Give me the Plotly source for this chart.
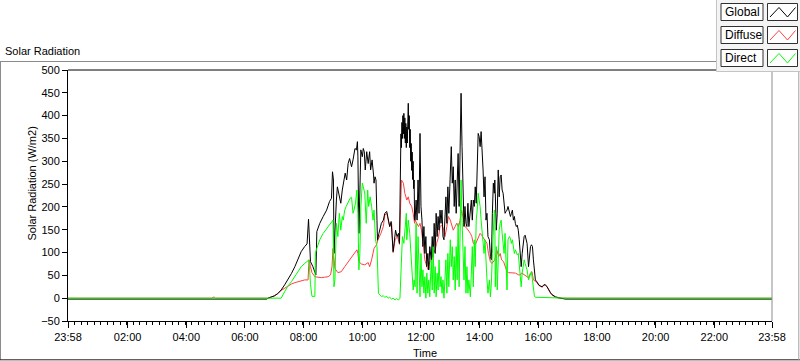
import plotly.graph_objects as go

# ---------------- data ----------------
GLOBAL_T = ["23:58", "06:45", "06:47", "06:54", "07:00", "07:07", "07:14", "07:21", "07:28", "07:35",
            "07:42", "07:48", "07:55", "08:02", "08:07", "08:10", "08:12", "08:14", "08:19", "08:23",
            "08:25", "08:27", "08:33", "08:40", "08:47", "08:53", "08:57", "08:59", "09:01", "09:02",
            "09:04", "09:07", "09:09", "09:12", "09:16", "09:19", "09:23", "09:25", "09:28", "09:31",
            "09:34", "09:38", "09:41", "09:45", "09:48", "09:50", "09:51", "09:53", "09:57", "10:00",
            "10:02", "10:04", "10:06", "10:09", "10:12", "10:15", "10:17", "10:20", "10:23", "10:24",
            "10:26", "10:28", "10:30", "10:31", "10:34", "10:37", "10:39", "10:43", "10:46", "10:50",
            "10:52", "10:54", "10:56", "10:59", "11:01", "11:03", "11:05", "11:08", "11:11", "11:14",
            "11:16", "11:18", "11:19", "11:20", "11:21", "11:22", "11:23", "11:24", "11:25", "11:26",
            "11:27", "11:28", "11:29", "11:30", "11:31", "11:32", "11:33", "11:34", "11:35", "11:36",
            "11:37", "11:38", "11:39", "11:40", "11:41", "11:42", "11:43", "11:44", "11:45", "11:46",
            "11:47",
            "11:48", "11:50", "11:52", "11:54", "11:56", "11:58", "12:00", "12:02", "12:04", "12:06",
            "12:08", "12:10", "12:12", "12:14", "12:16", "12:18", "12:21", "12:23", "12:25", "12:27",
            "12:29", "12:31", "12:33", "12:35", "12:37", "12:39", "12:41", "12:43", "12:45", "12:47",
            "12:49", "12:51", "12:53", "12:55", "12:57", "13:00", "13:02", "13:04", "13:06", "13:08",
            "13:10", "13:12", "13:14", "13:16", "13:18", "13:20", "13:22", "13:24", "13:26", "13:28",
            "13:30", "13:32", "13:34", "13:36", "13:38", "13:41", "13:43", "13:45", "13:47", "13:49",
            "13:51", "13:53", "13:55", "13:57", "13:59", "14:01", "14:03", "14:05", "14:07", "14:09",
            "14:11", "14:13", "14:15", "14:17", "14:20", "14:22", "14:24", "14:26", "14:28", "14:30",
            "14:31",
            "14:32", "14:34", "14:36", "14:38", "14:40", "14:42", "14:44", "14:46", "14:48", "14:50",
            "14:52", "14:54", "14:56", "14:58", "15:01", "15:03", "15:05", "15:07", "15:09", "15:11",
            "15:13", "15:15", "15:17", "15:19", "15:21", "15:23", "15:25", "15:27", "15:29", "15:31",
            "15:33", "15:35", "15:37", "15:40", "15:42", "15:44", "15:46", "15:48", "15:50", "15:52",
            "15:54", "15:57", "16:01", "16:04", "16:08", "16:11", "16:14", "16:18", "16:21", "16:25",
            "16:28", "16:32", "16:35", "16:42", "16:49", "16:55", "23:58"]
GLOBAL_V = [-2, -2, 0, 2, 5, 10, 18, 29, 41, 54,
            69, 84, 102, 113, 119, 173, 135, 80, 69, 54,
            51, 146, 164, 179, 193, 212, 219, 277, 259, 98,
            160, 215, 244, 230, 208, 237, 259, 274, 259, 295,
            306, 288, 303, 328, 325, 343, 310, 142, 325, 310,
            328, 321, 281, 321, 295, 321, 281, 303, 270, 252,
            266, 259, 171, 127, 142, 157, 164, 171, 186, 190,
            179, 164, 157, 168, 135, 102, 120, 149, 135, 142,
            120, 295, 360, 330, 385, 350, 400, 360, 405, 350,
            395, 340, 383, 330, 375, 340, 410, 427, 370, 400,
            330, 370, 300, 339, 280, 320, 260, 300, 240, 259,
            171,
            171, 215, 171, 259, 186, 361, 201, 171, 113, 157,
            98, 135, 69, 98, 62, 113, 84, 135, 91, 164,
            98, 186, 135, 179, 149, 193, 164, 193, 135, 128,
            193, 222, 164, 244, 186, 266, 332, 252, 288, 201,
            259, 186, 237, 317, 201, 361, 449, 332, 259, 157,
            201, 164, 157, 208, 157, 186, 215, 171, 215, 201,
            244, 208, 274, 361, 354, 332, 365, 332, 281, 222,
            266, 171, 186, 135, 128, 91, 84, 186, 252, 230,
            259,
            230, 149, 186, 281, 222, 266, 270, 237, 230, 208,
            186, 190, 193, 201, 190, 179, 186, 193, 171, 179,
            164, 157, 160, 149, 128, 98, 69, 98, 113, 135,
            138, 128, 120, 69, 91, 113, 117, 113, 84, 55,
            40, 36, 29, 27, 25, 29, 30, 25, 18, 12,
            8, 5, 3, 1, 0, -2, -2]

DIFFUSE_T = ["23:58", "04:52", "04:55", "04:58", "05:00", "06:47", "07:00", "07:07", "07:14", "07:21",
             "07:28", "07:35", "07:42", "07:48", "07:55", "08:02", "08:09", "08:11", "08:14", "08:17",
             "08:23", "08:29", "08:36", "08:43", "08:50", "08:55", "08:58", "09:00", "09:02", "09:04",
             "09:10", "09:17", "09:24", "09:31", "09:38", "09:45", "09:49", "09:51", "09:53", "09:58",
             "10:05", "10:12", "10:15", "10:19", "10:24", "10:29", "10:32", "10:38", "10:43", "10:46",
             "10:50", "10:53", "10:56", "11:00", "11:03", "11:07", "11:12", "11:16", "11:19", "11:20",
             "11:24", "11:27", "11:31", "11:34", "11:37", "11:41", "11:44", "11:47",
             "11:48", "11:51", "11:55", "11:58", "12:01", "12:05", "12:08", "12:12", "12:15", "12:18",
             "12:22", "12:25", "12:29", "12:32", "12:36", "12:39", "12:42", "12:46", "12:49", "12:53",
             "12:56", "13:00", "13:03", "13:06", "13:10", "13:13", "13:17", "13:20", "13:23", "13:27",
             "13:30", "13:34", "13:37", "13:41", "13:44", "13:47", "13:51", "13:54", "13:58", "14:01",
             "14:04", "14:08", "14:11", "14:15", "14:18", "14:22", "14:25", "14:28", "14:31",
             "14:35", "14:39", "14:42", "14:45", "14:49", "14:52", "14:56", "14:59", "15:06", "15:13",
             "15:20", "15:23", "15:26", "15:30", "15:33", "15:37", "15:40", "15:44", "15:47", "15:50",
             "15:54", "15:57", "16:01", "16:04", "16:08", "16:11", "16:14", "16:18", "16:21", "16:25",
             "16:28", "16:32", "16:35", "16:42", "23:58"]
DIFFUSE_V = [0, 0, 2, 2, 0, 0, 5, 10, 17, 22,
             27, 31, 34, 36, 38, 40, 40, 84, 69, 56,
             47, 46, 45, 46, 47, 51, 69, 109, 91, 65,
             56, 58, 69, 80, 91, 102, 106, 98, 80, 75,
             73, 78, 69, 84, 109, 117, 128, 142, 157, 182,
             186, 171, 157, 164, 100, 128, 135, 118, 200, 259,
             252, 230, 215, 222, 208, 201, 186, 164,
             171, 164, 157, 164, 149, 113, 84, 69, 62, 80,
             84, 98, 106, 120, 135, 157, 160, 153, 135, 157,
             179, 171, 157, 149, 157, 164, 157, 171, 193, 171,
             157, 153, 149, 142, 135, 120, 117, 124, 135, 142,
             138, 131, 128, 120, 98, 80, 76, 80, 84,
             106, 91, 98, 84, 80, 69, 58, 56, 56, 55,
             51, 51, 55, 52, 49, 47, 45, 55, 58, 40,
             36, 35, 28, 26, 24, 28, 29, 24, 17, 11,
             7, 4, 2, 0, 0]

DIRECT_T = ["23:58", "07:14", "07:21", "07:28", "07:35", "07:42", "07:48", "07:55", "08:02", "08:09",
            "08:11", "08:14", "08:17", "08:23", "08:24", "08:26", "08:33", "08:40", "08:47", "08:53",
            "08:58", "09:00", "09:02", "09:04", "09:07", "09:10", "09:13", "09:16", "09:19", "09:21",
            "09:24", "09:27", "09:30", "09:32", "09:35", "09:38", "09:41", "09:43", "09:46", "09:49",
            "09:51", "09:53", "09:55", "09:57", "10:00", "10:02", "10:05", "10:08", "10:11", "10:13",
            "10:16", "10:19", "10:22", "10:24", "10:27", "10:30", "10:31", "10:33", "10:36", "10:39",
            "10:43", "10:46", "10:50", "10:53", "10:56", "11:00", "11:03", "11:07", "11:10", "11:14",
            "11:17", "11:19", "11:20", "11:22", "11:25", "11:27", "11:30", "11:31", "11:34", "11:37",
            "11:40", "11:42", "11:44", "11:46",
            "11:48", "11:50", "11:52", "11:54", "11:56", "11:58", "12:00", "12:02", "12:04", "12:06",
            "12:08", "12:10", "12:12", "12:14", "12:16", "12:18", "12:21", "12:23", "12:25", "12:27",
            "12:29", "12:31", "12:33", "12:35", "12:37", "12:39", "12:41", "12:43", "12:45", "12:47",
            "12:49", "12:51", "12:53", "12:55", "12:57", "13:00", "13:02", "13:04", "13:06", "13:08",
            "13:10", "13:12", "13:14", "13:16", "13:18", "13:20", "13:22", "13:24", "13:26", "13:28",
            "13:30", "13:32", "13:34", "13:36", "13:38", "13:41", "13:43", "13:45", "13:47", "13:49",
            "13:51", "13:53", "13:55", "13:57", "13:59", "14:01", "14:03", "14:05", "14:07", "14:09",
            "14:11", "14:13", "14:15", "14:17", "14:20", "14:22", "14:24", "14:26", "14:28", "14:30",
            "14:31",
            "14:32", "14:34", "14:36", "14:38", "14:40", "14:42", "14:44", "14:46", "14:48", "14:50",
            "14:52", "14:54", "14:56", "14:58", "15:01", "15:03", "15:05", "15:07", "15:09", "15:11",
            "15:13", "15:15", "15:17", "15:19", "15:21", "15:23", "15:25", "15:27", "15:29", "15:31",
            "15:33", "15:35", "15:37", "15:40", "15:42", "15:44", "15:46", "15:48", "15:50", "15:52",
            "15:54", "16:30", "17:00", "23:58"]
DIRECT_V = [0, 0, 14, 27, 36, 47, 58, 69, 76, 84,
            84, 30, 4, 4, 98, 106, 128, 142, 153, 163,
            168, 171, 25, 40, 164, 135, 186, 149, 179, 171,
            193, 201, 208, 215, 219, 221, 186, 193, 208, 237,
            186, 62, 98, 200, 252, 244, 230, 164, 237, 201,
            222, 201, 171, 193, 128, 113, 55, 11, 7, 4,
            5, 2, 4, 0, 2, -2, 0, -4, -1, -4,
            0, 69, 106, 135, 120, 157, 186, 128, 171, 142,
            98, 55, 18, 40,
            25, 164, 11, 135, 40, 3, 98, 25, 62, 11,
            47, 0, 55, 11, 40, 3, 84, 18, 113, 11,
            69, 3, 55, 18, 84, 25, 47, 11, 40, 0,
            40, 84, 11, 98, 25, 128, 69, 113, 40, 91,
            18, 113, 40, 164, 25, 186, 259, 171, 98, 40,
            113, 11, 69, 11, 40, 3, 55, 113, 25, 128,
            69, 171, 193, 230, 215, 201, 171, 149, 113, 98,
            128, 69, 40, 11, 40, 3, 33, 98, 164, 193,
            186,
            25, 113, 18, 84, 149, 164, 171, 142, 113, 98,
            142, 69, 18, 128, 135, 131, 120, 128, 113, 98,
            106, 102, 95, 98, 69, 40, 25, 55, 76, 84,
            76, 69, 62, 40, 47, 55, 58, 40, 18, 5,
            2, 1, 0, 0]

SERIES_NAMES = ["Global", "Diffuse", "Direct"]
SERIES_COLORS = ["#000000", "#ff4040", "#00ff00"]

TICK_LABELS = ["23:58", "02:00", "04:00", "06:00", "08:00", "10:00", "12:00",
               "14:00", "16:00", "18:00", "20:00", "22:00", "23:58"]
Y_TICKS = [-50, 0, 50, 100, 150, 200, 250, 300, 350, 400, 450, 500]


def to_min(s):
    h, m = s.split(":")
    return int(h) * 60 + int(m)


def day_minutes(times):
    mins = [to_min(s) for s in times]
    if mins[0] > mins[1]:      # the record starts at 23:58 of the previous day
        mins[0] -= 1440
    return mins


tickvals = day_minutes(TICK_LABELS)
x_range = [tickvals[0], tickvals[-1]]

# ---------------- layout geometry ----------------
W, H = 800, 361
L, R, T, B = 68, 28, 70, 40
PW, PH = W - L - R, H - T - B


def px(x):
    return (x - L) / PW


def py(y):
    return (H - B - y) / PH


FONT = "Liberation Sans"

fig = go.Figure()
series = {
    "Global": (GLOBAL_T, GLOBAL_V),
    "Diffuse": (DIFFUSE_T, DIFFUSE_V),
    "Direct": (DIRECT_T, DIRECT_V),
}
color_of = dict(zip(SERIES_NAMES, SERIES_COLORS))
for name in ["Diffuse", "Global", "Direct"]:   # drawing order as in the reference
    t, v = series[name]
    fig.add_trace(go.Scatter(x=day_minutes(t), y=v, mode="lines", name=name,
                             line=dict(color=color_of[name], width=1)))

fig.update_layout(
    width=W, height=H,
    margin=dict(l=L, r=R, t=T, b=B, autoexpand=False),
    paper_bgcolor="white", plot_bgcolor="white",
    showlegend=False,
    font=dict(family=FONT, size=11, color="#000000"),
)
fig.update_xaxes(
    range=x_range, tickmode="array", tickvals=tickvals, ticktext=TICK_LABELS,
    ticks="outside", ticklen=6, tickcolor="#000000", tickwidth=1,
    showline=True, linecolor="#000000", linewidth=1,
    showgrid=False, zeroline=False,
    tickfont=dict(family=FONT, size=11, color="#000000"),
    minor=dict(ticks="outside", ticklen=3, tickcolor="#000000", tickwidth=1,
               tickmode="linear", tick0=x_range[0], dtick=40 / 3, showgrid=False),
)
fig.update_yaxes(
    range=[Y_TICKS[0], Y_TICKS[-1]], tickmode="array", tickvals=Y_TICKS,
    ticks="outside", ticklen=5, tickcolor="#000000", tickwidth=1,
    showline=True, linecolor="#000000", linewidth=1,
    showgrid=False, zeroline=False,
    tickfont=dict(family=FONT, size=11, color="#000000"),
)

shapes = []


def line(x0, y0, x1, y1, color, width=1):
    shapes.append(dict(type="line", xref="paper", yref="paper",
                       x0=px(x0), y0=py(y0), x1=px(x1), y1=py(y1),
                       line=dict(color=color, width=width), layer="above"))


# outer frame of the graph control
line(0, 61.5, 717, 61.5, "#8c8c8c")
line(0.5, 61.5, 0.5, 360, "#8c8c8c")
line(0, 359.8, 800, 359.8, "#202020")
line(798.8, 71.5, 798.8, 360, "#a0a0a0")
# plot frame top (black) and right (grey)
line(L, T, W - R, T, "#000000")
line(W - R, T, W - R, H - B, "#8c8c8c")

# legend panel
shapes.append(dict(type="rect", xref="paper", yref="paper",
                   x0=px(716.5), y0=py(71.5), x1=px(801), y1=py(-1),
                   fillcolor="#f4f4f4", line=dict(color="#c4c4c4", width=1), layer="above"))
annotations = []
for i, name in enumerate(SERIES_NAMES):
    top = 3.5 + i * 23
    shapes.append(dict(type="rect", xref="paper", yref="paper",
                       x0=px(721), y0=py(top + 17), x1=px(763), y1=py(top),
                       fillcolor="white", line=dict(color="#303030", width=1), layer="above"))
    shapes.append(dict(type="rect", xref="paper", yref="paper",
                       x0=px(767.5), y0=py(top + 17), x1=px(797.5), y1=py(top),
                       fillcolor="white", line=dict(color="#303030", width=1), layer="above"))
    zig = [(770, top + 13.5), (779, top + 4), (787.5, top + 13.5), (795.5, top + 4)]
    path = "M " + " L ".join(f"{px(a):.5f},{py(b):.5f}" for a, b in zig)
    shapes.append(dict(type="path", xref="paper", yref="paper", path=path,
                       line=dict(color=SERIES_COLORS[i], width=1), layer="above"))
    annotations.append(dict(xref="paper", yref="paper", x=px(723), y=py(top + 8.5),
                            xanchor="left", yanchor="middle", showarrow=False, text=name,
                            font=dict(family=FONT, size=12, color="#000000")))

annotations += [
    dict(xref="paper", yref="paper", x=px(3), y=py(50.5), xanchor="left", yanchor="middle",
         showarrow=False, text="Solar Radiation", font=dict(family=FONT, size=11, color="#000000")),
    dict(xref="paper", yref="paper", x=px(31.5), y=py(184), xanchor="center", yanchor="middle",
         showarrow=False, text="Solar Radiation (W/m2)", textangle=-90,
         font=dict(family=FONT, size=11, color="#000000")),
    dict(xref="paper", yref="paper", x=px(425), y=py(353), xanchor="center", yanchor="middle",
         showarrow=False, text="Time", font=dict(family=FONT, size=11, color="#000000")),
]
fig.update_layout(shapes=shapes, annotations=annotations)

fig.write_html("out.html",
               config={"displayModeBar": False},
               post_script="document.body.style.margin='0';document.body.style.padding='0';"
                           "document.body.style.overflow='hidden';")
